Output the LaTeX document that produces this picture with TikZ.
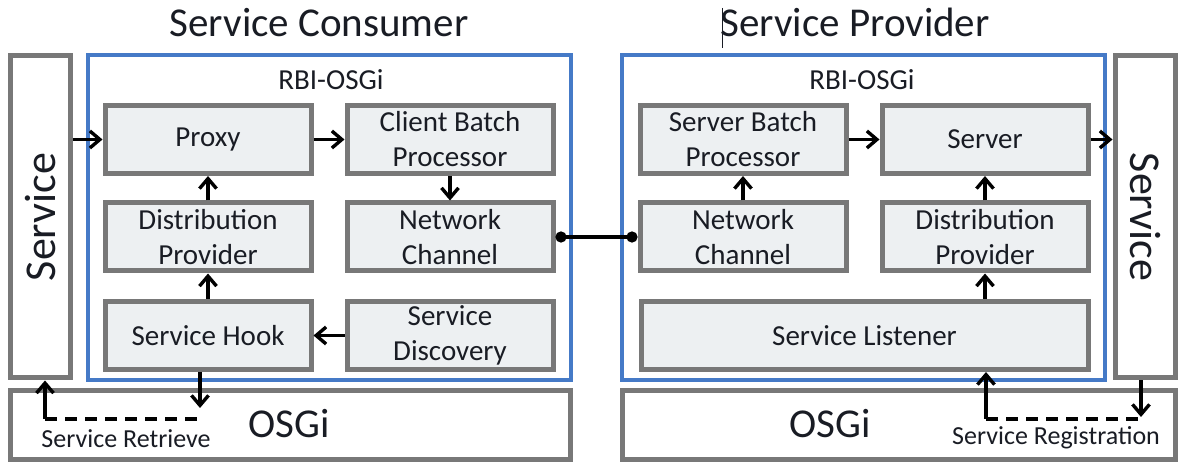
\documentclass[tikz,border=0pt]{standalone}
\usepackage{graphicx}
\usepackage{fontspec}
\setmainfont{Carlito}
\usetikzlibrary{arrows.meta}
\definecolor{boxgrey}{rgb}{0.47, 0.47, 0.47}
\definecolor{boxfill}{rgb}{0.93, 0.94, 0.95}
\definecolor{rbiblue}{rgb}{0.27, 0.48, 0.78}
\definecolor{inkdark}{rgb}{0.10, 0.11, 0.14}
\tikzset{comp/.style={draw=boxgrey, line width=5pt, fill=boxfill, minimum width=206pt, minimum height=68pt, inner sep=0pt, align=center, text=inkdark, font=\fontsize{29}{35}\selectfont}}
\tikzset{frame/.style={draw=rbiblue, line width=4pt, minimum width=483pt, minimum height=325pt, inner sep=0pt}}
\tikzset{plain/.style={draw=boxgrey, line width=5pt, fill=white, inner sep=0pt, text=inkdark}}
\tikzset{flow/.style={line width=3.6pt, color=black, -{Straight Barb[length=10pt, width=17pt, line width=3.4pt]}}}
\tikzset{dashline/.style={line width=3.6pt, color=black, dash pattern=on 12pt off 8pt}}
\tikzset{link/.style={line width=3.6pt, color=black, {Circle[length=11pt]}-{Circle[length=11pt]}}}

\begin{document}
\begin{tikzpicture}[x=1pt, y=-1pt]%{{{
        \useasboundingbox (0,0) rectangle (1179,462);

        \node[anchor=base, text=inkdark, font=\fontsize{41}{48}\selectfont] (Tcons) at (319, 37) {Service Consumer};
        \node[anchor=base, text=inkdark, font=\fontsize{41}{48}\selectfont] (Tprov) at (855, 37) {Service Provider};
        \draw [line width=1pt, color=inkdark] (722, 8) -- (722, 48);

        % consumer side
        \node[plain, minimum width=60pt, minimum height=322pt, font=\fontsize{44}{50}\selectfont] (Lsvc) at (40.5, 217) {\rotatebox{90}{Service}};
        \node[frame] (Cfrm) at (329.25, 217.5) {};
        \node[anchor=base, text=inkdark, font=\fontsize{29}{35}\selectfont] (Crbi) at (331, 90) {RBI-OSGi};
        \node[plain, minimum width=560pt, minimum height=68.5pt] (Cosgi) at (290.5, 424.75) {};
        \node[anchor=base, text=inkdark, font=\fontsize{41}{48}\selectfont] (Cosgitxt) at (289, 438) {OSGi};

        \node[comp] (Cproxy) at (208, 139.5) {Proxy};
        \node[comp] (Cbatch) at (450, 139.5) {Client Batch\\Processor};
        \node[comp] (Cdist) at (208, 237) {Distribution\\Provider};
        \node[comp] (Cchan) at (450, 237) {Network\\Channel};
        \node[comp] (Chook) at (208, 335.5) {Service Hook};
        \node[comp] (Cdisc) at (450, 335.5) {Service\\Discovery};

        \draw [flow] (Lsvc.east |- Cproxy.west) -- (Cproxy.west);
        \draw [flow] (Cproxy) -- (Cbatch);
        \draw [flow] (Cbatch) -- (Cchan);
        \draw [flow] (Cdist) -- (Cproxy);
        \draw [flow] (Chook) -- (Cdist);
        \draw [flow] (Cdisc) -- (Chook);

        \coordinate (Cget) at (200, 408);
        \coordinate (Cret) at (45, 419);
        \draw [flow] (Chook.south -| Cget) -- (Cget);
        \draw [dashline] (Cret) -- (Cret -| Cget);
        \draw [flow] (Cret) -- (Cret |- Lsvc.south);
        \node[anchor=base, text=inkdark, font=\fontsize{26}{31}\selectfont] (Cretxt) at (126, 448) {Service Retrieve};

        % provider side
        \node[frame] (Pfrm) at (863.25, 217.5) {};
        \node[anchor=base, text=inkdark, font=\fontsize{29}{35}\selectfont] (Prbi) at (862, 90) {RBI-OSGi};
        \node[plain, minimum width=60pt, minimum height=322pt, font=\fontsize{44}{50}\selectfont] (Rsvc) at (1145, 217) {\rotatebox{-90}{Service}};
        \node[plain, minimum width=553.5pt, minimum height=68.5pt] (Posgi) at (898.75, 424.75) {};
        \node[anchor=base, text=inkdark, font=\fontsize{41}{48}\selectfont] (Posgitxt) at (830, 438) {OSGi};

        \node[comp] (Pbatch) at (743, 139.5) {Server Batch\\Processor};
        \node[comp] (Pserver) at (985, 139.5) {Server};
        \node[comp] (Pchan) at (743, 237) {Network\\Channel};
        \node[comp] (Pdist) at (985, 237) {Distribution\\Provider};
        \node[comp, minimum width=447pt] (Plisten) at (864.5, 335.5) {Service Listener};

        \draw [flow] (Pchan) -- (Pbatch);
        \draw [flow] (Pbatch) -- (Pserver);
        \draw [flow] (Pdist) -- (Pserver);
        \draw [flow] (Plisten.north -| Pdist.south) -- (Pdist.south);
        \draw [flow] (Pserver.east) -- (Pserver.east -| Rsvc.west);

        \coordinate (Preg) at (986, 419);
        \coordinate (Pput) at (1141, 417);
        \draw [flow] (Preg) -- (Preg |- Plisten.south);
        \draw [dashline] (Preg) -- (Preg -| Pput);
        \draw [flow] (Rsvc.south -| Pput) -- (Pput);
        \node[anchor=base, text=inkdark, font=\fontsize{26}{31}\selectfont] (Pregtxt) at (1056, 445) {Service Registration};

        \draw [link] (Cchan.east) -- (Pchan.west);
    \end{tikzpicture}
\end{document}
